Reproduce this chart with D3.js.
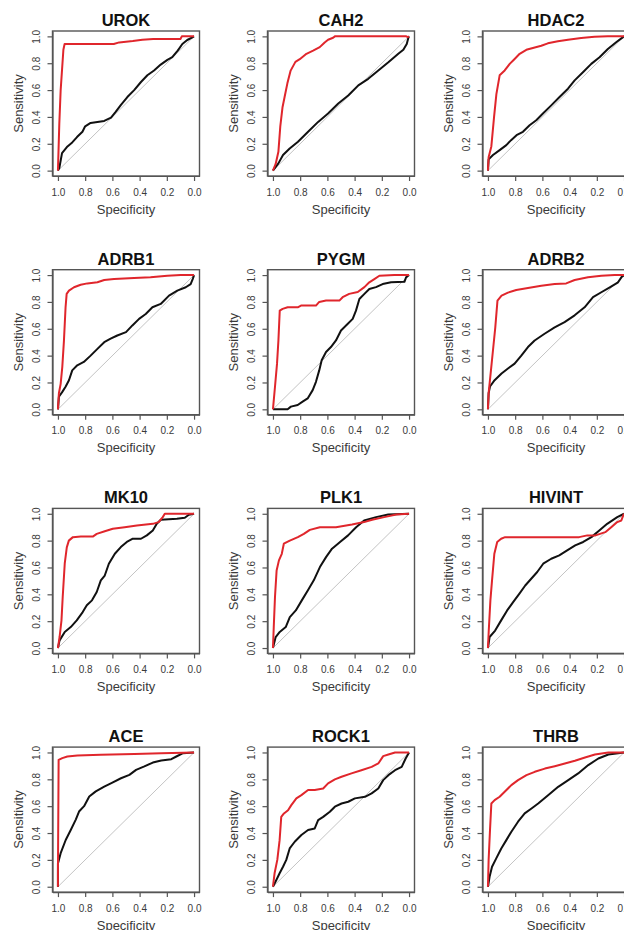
<!DOCTYPE html>
<html>
<head>
<meta charset="utf-8">
<script src="https://cdn.jsdelivr.net/npm/d3@7"></script>
<style>
  html, body { margin: 0; padding: 0; background: #ffffff; }
  svg { display: block; }
  text { font-family: "Liberation Sans", Arial, sans-serif; }
</style>
</head>
<body>
<svg id="chart" width="624" height="930"></svg>
<script>
// ---- data: [specificity, sensitivity] ----
const titles = ["UROK", "CAH2", "HDAC2", "ADRB1", "PYGM", "ADRB2", "MK10", "PLK1", "HIVINT", "ACE", "ROCK1", "THRB"];
const tickValues = [1.0, 0.8, 0.6, 0.4, 0.2, 0.0];
const diagonal = [[1, 0], [0, 1]];

const UROK_red = [[1,0],[0.99,0.35],[0.98,0.6],[0.96,0.9],[0.951,0.943],[0.59,0.943],[0.55,0.955],[0.45,0.965],[0.38,0.975],[0.3,0.98],[0.1,0.98],[0.09,1],[0,1]];
const UROK_black = [[1,0],[0.99,0.02],[0.97,0.13],[0.93,0.18],[0.895,0.21],[0.86,0.25],[0.82,0.29],[0.8,0.33],[0.76,0.355],[0.71,0.363],[0.66,0.37],[0.61,0.395],[0.576,0.437],[0.54,0.486],[0.49,0.548],[0.44,0.6],[0.39,0.66],[0.343,0.71],[0.294,0.746],[0.245,0.79],[0.196,0.825],[0.16,0.845],[0.12,0.894],[0.086,0.943],[0.05,0.973],[0.012,0.993],[0,1]];

const CAH2_red = [[1,0],[0.98,0.05],[0.96,0.14],[0.946,0.33],[0.93,0.47],[0.914,0.55],[0.894,0.65],[0.87,0.745],[0.835,0.81],[0.803,0.83],[0.754,0.87],[0.705,0.894],[0.656,0.92],[0.62,0.955],[0.595,0.975],[0.558,0.99],[0.545,1],[0.02,1],[0.01,0.995],[0,1]];
const CAH2_black = [[1,0],[0.96,0.054],[0.926,0.116],[0.877,0.165],[0.816,0.215],[0.742,0.289],[0.668,0.363],[0.595,0.425],[0.52,0.5],[0.447,0.56],[0.373,0.635],[0.3,0.684],[0.226,0.746],[0.152,0.807],[0.079,0.87],[0.042,0.9],[0.017,0.943],[0.005,0.99],[0,1]];

const HDAC2_red = [[1,0],[0.995,0.1],[0.975,0.18],[0.955,0.4],[0.938,0.57],[0.914,0.71],[0.877,0.746],[0.84,0.795],[0.804,0.832],[0.767,0.87],[0.718,0.9],[0.67,0.914],[0.608,0.93],[0.56,0.948],[0.486,0.963],[0.412,0.975],[0.315,0.988],[0.217,0.998],[0.12,1],[0,1]];
const HDAC2_black = [[1,0],[0.995,0.084],[0.963,0.116],[0.914,0.153],[0.865,0.19],[0.83,0.227],[0.79,0.264],[0.743,0.289],[0.694,0.338],[0.645,0.375],[0.596,0.425],[0.535,0.486],[0.474,0.548],[0.412,0.61],[0.363,0.672],[0.302,0.733],[0.241,0.795],[0.18,0.844],[0.119,0.906],[0.058,0.956],[0,1]];

const ADRB1_red = [[1,0],[0.993,0.12],[0.98,0.19],[0.968,0.316],[0.956,0.51],[0.944,0.76],[0.936,0.86],[0.919,0.884],[0.882,0.909],[0.833,0.928],[0.784,0.938],[0.71,0.946],[0.66,0.963],[0.588,0.97],[0.441,0.978],[0.32,0.983],[0.196,0.995],[0.098,1],[0,1]];
const ADRB1_black = [[1,0],[0.993,0.094],[0.968,0.13],[0.944,0.168],[0.919,0.217],[0.895,0.29],[0.858,0.328],[0.81,0.353],[0.76,0.4],[0.71,0.45],[0.66,0.5],[0.613,0.526],[0.564,0.55],[0.5,0.575],[0.453,0.625],[0.404,0.674],[0.355,0.71],[0.306,0.76],[0.245,0.785],[0.184,0.847],[0.123,0.884],[0.061,0.909],[0.025,0.933],[0.01,0.97],[0,1]];

const PYGM_red = [[1,0],[0.985,0.168],[0.97,0.34],[0.96,0.51],[0.95,0.735],[0.929,0.748],[0.892,0.76],[0.818,0.76],[0.794,0.773],[0.684,0.773],[0.66,0.8],[0.61,0.81],[0.512,0.81],[0.488,0.835],[0.44,0.86],[0.377,0.874],[0.328,0.91],[0.292,0.946],[0.255,0.97],[0.218,0.995],[0.108,1],[0,1]];
const PYGM_black = [[1,0],[0.892,0],[0.868,0.02],[0.818,0.032],[0.782,0.057],[0.745,0.081],[0.708,0.143],[0.684,0.205],[0.66,0.29],[0.642,0.365],[0.61,0.427],[0.574,0.464],[0.537,0.513],[0.5,0.587],[0.45,0.637],[0.414,0.674],[0.39,0.735],[0.365,0.822],[0.328,0.86],[0.292,0.896],[0.243,0.91],[0.194,0.933],[0.132,0.946],[0.034,0.95],[0.022,0.983],[0,1]];

const ADRB2_red = [[1,0],[0.995,0.12],[0.98,0.27],[0.963,0.44],[0.946,0.61],[0.93,0.81],[0.9,0.847],[0.853,0.869],[0.792,0.889],[0.706,0.904],[0.608,0.921],[0.51,0.933],[0.425,0.938],[0.363,0.963],[0.265,0.983],[0.167,0.995],[0.069,1],[0,1]];
const ADRB2_black = [[1,0],[0.995,0.12],[0.985,0.17],[0.951,0.217],[0.9,0.267],[0.853,0.304],[0.804,0.34],[0.755,0.4],[0.706,0.464],[0.657,0.513],[0.584,0.563],[0.51,0.61],[0.437,0.65],[0.363,0.7],[0.29,0.76],[0.228,0.835],[0.167,0.872],[0.105,0.909],[0.044,0.946],[0.02,0.983],[0,1]];

const MK10_red = [[1,0],[0.988,0.082],[0.974,0.206],[0.965,0.38],[0.95,0.63],[0.935,0.75],[0.92,0.8],[0.89,0.826],[0.832,0.83],[0.744,0.83],[0.715,0.85],[0.656,0.87],[0.597,0.888],[0.51,0.9],[0.42,0.913],[0.303,0.925],[0.26,0.938],[0.23,0.975],[0.215,1],[0,1]];
const MK10_black = [[1,0],[0.988,0.057],[0.95,0.12],[0.906,0.156],[0.862,0.206],[0.818,0.268],[0.788,0.318],[0.75,0.355],[0.715,0.417],[0.685,0.504],[0.656,0.54],[0.626,0.628],[0.582,0.702],[0.538,0.752],[0.494,0.79],[0.45,0.814],[0.39,0.814],[0.347,0.839],[0.303,0.876],[0.274,0.926],[0.244,0.955],[0.126,0.963],[0.068,0.97],[0.038,0.993],[0,1]];

const PLK1_red = [[1,0],[0.994,0.156],[0.985,0.38],[0.973,0.578],[0.956,0.653],[0.935,0.702],[0.92,0.777],[0.876,0.8],[0.817,0.826],[0.773,0.85],[0.729,0.88],[0.655,0.9],[0.537,0.9],[0.419,0.92],[0.33,0.938],[0.271,0.955],[0.183,0.975],[0.094,0.995],[0,1]];
const PLK1_black = [[1,0],[0.98,0.082],[0.95,0.12],[0.906,0.156],[0.876,0.23],[0.832,0.28],[0.788,0.355],[0.743,0.43],[0.7,0.504],[0.655,0.603],[0.61,0.677],[0.566,0.74],[0.507,0.79],[0.448,0.839],[0.389,0.9],[0.33,0.95],[0.242,0.975],[0.153,0.995],[0,1]];

const HIVINT_red = [[1,0],[0.994,0.13],[0.982,0.355],[0.97,0.504],[0.953,0.702],[0.932,0.79],[0.903,0.814],[0.874,0.826],[0.77,0.826],[0.33,0.826],[0.27,0.839],[0.21,0.839],[0.138,0.863],[0.094,0.9],[0.05,0.938],[0.02,0.95],[0.006,0.988],[0,1]];
const HIVINT_black = [[1,0],[0.988,0.082],[0.947,0.13],[0.903,0.206],[0.859,0.28],[0.815,0.342],[0.77,0.404],[0.726,0.466],[0.682,0.516],[0.638,0.566],[0.594,0.628],[0.535,0.665],[0.476,0.69],[0.418,0.727],[0.359,0.764],[0.3,0.79],[0.24,0.826],[0.182,0.876],[0.124,0.925],[0.05,0.975],[0,1]];

const ACE_red = [[1,0],[1,0.1],[0.995,0.945],[0.968,0.958],[0.931,0.97],[0.857,0.978],[0.685,0.983],[0.438,0.988],[0.241,0.995],[0,1]];
const ACE_black = [[1,0],[1,0.174],[0.98,0.25],[0.943,0.348],[0.906,0.423],[0.869,0.5],[0.845,0.56],[0.808,0.6],[0.77,0.672],[0.722,0.71],[0.66,0.746],[0.6,0.776],[0.537,0.808],[0.475,0.833],[0.426,0.87],[0.365,0.896],[0.303,0.925],[0.241,0.94],[0.167,0.95],[0.13,0.97],[0.081,0.995],[0,1]];

const ROCK1_red = [[1,0],[0.988,0.1],[0.968,0.2],[0.951,0.347],[0.939,0.52],[0.919,0.546],[0.889,0.57],[0.865,0.608],[0.828,0.658],[0.791,0.682],[0.742,0.72],[0.693,0.72],[0.631,0.732],[0.595,0.77],[0.545,0.8],[0.496,0.819],[0.423,0.844],[0.35,0.868],[0.275,0.893],[0.226,0.918],[0.19,0.973],[0.152,0.985],[0.103,1],[0,1]];
const ROCK1_black = [[1,0],[0.975,0.05],[0.951,0.1],[0.926,0.149],[0.902,0.2],[0.877,0.285],[0.84,0.335],[0.791,0.385],[0.742,0.422],[0.693,0.434],[0.668,0.496],[0.631,0.52],[0.582,0.558],[0.545,0.596],[0.496,0.62],[0.447,0.633],[0.398,0.658],[0.324,0.67],[0.275,0.695],[0.226,0.732],[0.19,0.794],[0.152,0.831],[0.103,0.868],[0.054,0.893],[0.025,0.955],[0,1]];

const THRB_red = [[1,0],[0.995,0.2],[0.985,0.42],[0.975,0.62],[0.951,0.645],[0.914,0.67],[0.877,0.707],[0.828,0.757],[0.779,0.794],[0.717,0.831],[0.656,0.856],[0.582,0.88],[0.509,0.898],[0.435,0.918],[0.361,0.938],[0.287,0.963],[0.214,0.985],[0.115,1],[0,1]];
const THRB_black = [[1,0],[0.988,0.074],[0.97,0.149],[0.939,0.211],[0.902,0.285],[0.865,0.347],[0.828,0.41],[0.779,0.484],[0.73,0.546],[0.68,0.583],[0.631,0.62],[0.558,0.682],[0.484,0.744],[0.41,0.794],[0.337,0.844],[0.263,0.906],[0.189,0.955],[0.115,0.985],[0,1]];

const redCurves = [UROK_red, CAH2_red, HDAC2_red, ADRB1_red, PYGM_red, ADRB2_red, MK10_red, PLK1_red, HIVINT_red, ACE_red, ROCK1_red, THRB_red];
const blackCurves = [UROK_black, CAH2_black, HDAC2_black, ADRB1_black, PYGM_black, ADRB2_black, MK10_black, PLK1_black, HIVINT_black, ACE_black, ROCK1_black, THRB_black];

// ---- layout ----
const svg = d3.select("#chart");
const boxW = 147, boxH = 145;
const colLeft = [52.5, 267.5, 482.5];
const rowTop = [31, 269.7, 508.4, 747.1];
const textGray = "#3a3a3a";

titles.forEach((title, i) => {
  const left = colLeft[i % 3], top = rowTop[Math.floor(i / 3)];
  const g = svg.append("g").attr("transform", `translate(${left},${top})`);

  const x = d3.scaleLinear().domain([1.04, -0.04]).range([0, boxW]);
  const y = d3.scaleLinear().domain([-0.04, 1.04]).range([boxH, 0]);
  const line = d3.line().x(d => x(d[0])).y(d => y(d[1]));

  // axes
  const xAxis = g.append("g").attr("transform", `translate(0,${boxH})`)
    .call(d3.axisBottom(x).tickValues(tickValues).tickFormat(d3.format(".1f")).tickSize(5).tickSizeOuter(0));
  xAxis.selectAll("text").attr("y", 12.5).attr("dy", "0.71em")
    .attr("fill", textGray).style("font-size", "10px");
  const yAxis = g.append("g")
    .call(d3.axisLeft(y).tickValues(tickValues).tickFormat(d3.format(".1f")).tickSize(5).tickSizeOuter(0));
  yAxis.selectAll("text").attr("transform", "rotate(-90)").attr("x", 0).attr("y", -12.5).attr("dy", "0")
    .attr("text-anchor", "middle").attr("fill", textGray).style("font-size", "10px");
  [xAxis, yAxis].forEach(a => {
    a.selectAll("line").attr("stroke", "#555").attr("stroke-width", 1.2);
    a.select(".domain").attr("stroke", "#555").attr("stroke-width", 1.2);
  });

  // diagonal reference
  g.append("path").datum(diagonal).attr("d", line)
    .attr("fill", "none").attr("stroke", "#c4c4c4").attr("stroke-width", 1);

  // curves
  g.append("path").datum(blackCurves[i]).attr("d", line)
    .attr("fill", "none").attr("stroke", "#111").attr("stroke-width", 2).attr("stroke-linejoin", "round");
  g.append("path").datum(redCurves[i]).attr("d", line)
    .attr("fill", "none").attr("stroke", "#e0262c").attr("stroke-width", 2).attr("stroke-linejoin", "round");

  // box
  g.append("rect").attr("x", 0).attr("y", 0).attr("width", boxW).attr("height", boxH)
    .attr("fill", "none").attr("stroke", "#555").attr("stroke-width", 1.4);

  // labels
  g.append("text").attr("x", boxW / 2).attr("y", -5).attr("text-anchor", "middle")
    .style("font-size", "16.5px").style("font-weight", "bold").attr("fill", "#111").text(title);
  g.append("text").attr("x", boxW / 2).attr("y", boxH + 33).attr("dy", "0.35em").attr("text-anchor", "middle")
    .style("font-size", "13px").attr("fill", textGray).text("Specificity");
  g.append("text").attr("transform", `translate(-34,${boxH / 2}) rotate(-90)`).attr("dy", "0.35em")
    .attr("text-anchor", "middle").style("font-size", "13px").attr("fill", textGray).text("Sensitivity");
});
</script>
</body>
</html>
